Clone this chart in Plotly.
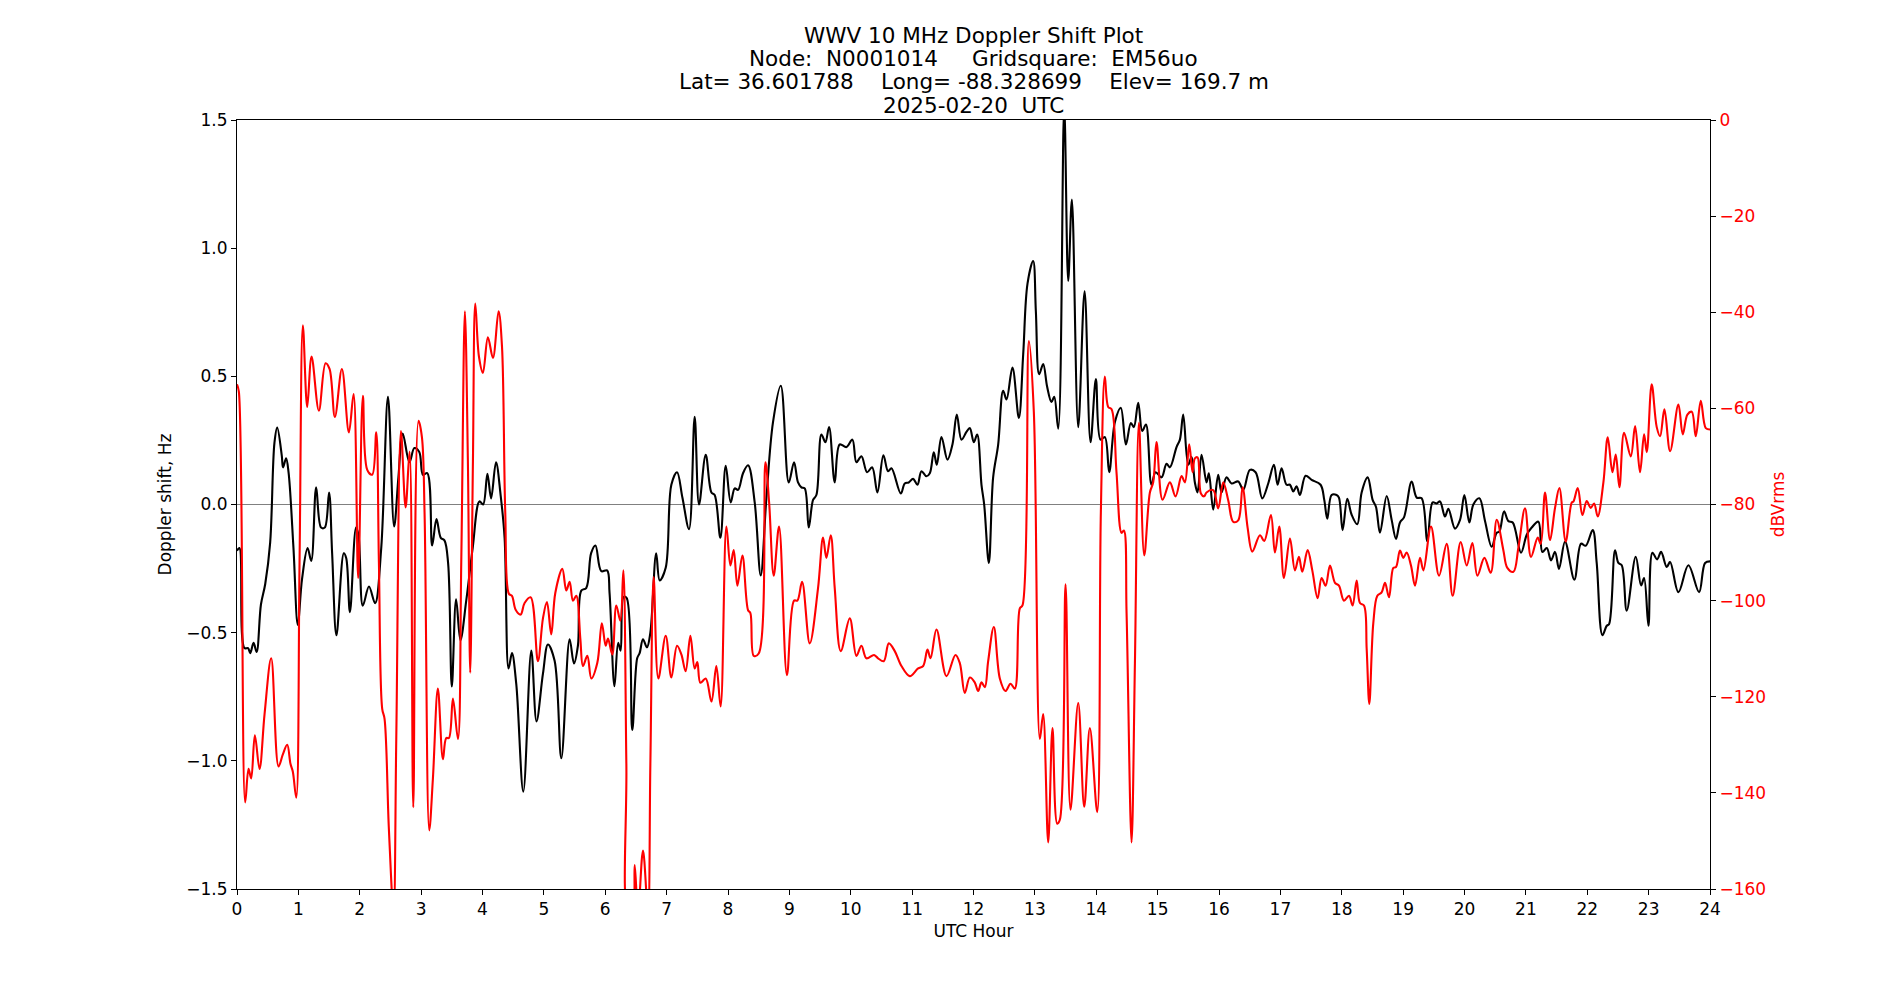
import plotly.graph_objects as go

# ---------------- data ----------------
doppler_hours = [
    0.0, 0.04, 0.12, 0.18, 0.215, 0.27, 0.32, 0.39, 0.46, 0.54, 0.61, 0.655, 0.73, 0.75, 0.80, 0.84, 0.92, 0.99,
    1.06, 1.15, 1.21, 1.29, 1.37, 1.43, 1.50, 1.55, 1.62, 1.74, 1.78, 1.84, 1.94, 1.98,
    2.05, 2.15, 2.25, 2.35, 2.46, 2.56, 2.63, 2.70, 2.81, 2.89, 2.97,
    3.03, 3.10, 3.18, 3.25, 3.32, 3.38, 3.44, 3.50, 3.57, 3.64, 3.735, 3.84, 3.95,
    4.01, 4.08, 4.14, 4.22, 4.295, 4.36, 4.425, 4.48, 4.55, 4.665, 4.795, 4.88, 4.985,
    5.066, 5.175, 5.284, 5.42, 5.49, 5.555, 5.61, 5.69, 5.77, 5.84, 5.935,
    6.03, 6.07, 6.15, 6.21, 6.25, 6.30, 6.35, 6.44, 6.52, 6.56, 6.615, 6.68, 6.735, 6.83, 6.887, 6.985,
    7.077, 7.17, 7.257, 7.365, 7.457, 7.528, 7.637, 7.73, 7.783, 7.876, 7.963,
    8.044, 8.11, 8.164, 8.245, 8.327, 8.435, 8.533, 8.626, 8.734, 8.86, 8.99,
    9.076, 9.141, 9.196, 9.25, 9.315, 9.386, 9.44, 9.522, 9.587, 9.647, 9.739, 9.82, 9.93,
    10.027, 10.092, 10.174, 10.266, 10.348, 10.434, 10.532, 10.608, 10.663, 10.815, 10.88, 10.945,
    11.016, 11.087, 11.152, 11.233, 11.288, 11.353, 11.402, 11.478, 11.576, 11.657, 11.728, 11.804, 11.885, 11.94,
    12.005, 12.06, 12.13, 12.174, 12.25, 12.32, 12.402, 12.483, 12.538, 12.635, 12.739, 12.81, 12.88, 12.972,
    13.016, 13.07, 13.135, 13.20, 13.27, 13.315, 13.38, 13.478, 13.543, 13.603, 13.706, 13.81, 13.907, 13.994,
    14.07, 14.14, 14.211, 14.304, 14.40, 14.483, 14.564, 14.613, 14.684, 14.749, 14.81, 14.90, 14.966,
    15.064, 15.145, 15.20, 15.308, 15.363, 15.417, 15.499, 15.553, 15.607, 15.65, 15.716, 15.797, 15.835, 15.906, 15.987,
    16.042, 16.123, 16.205, 16.313, 16.395, 16.504, 16.596, 16.705, 16.802, 16.895, 16.955,
    17.02, 17.10, 17.156, 17.21, 17.264, 17.318, 17.411, 17.509, 17.655, 17.715, 17.764, 17.835, 17.916, 17.954,
    18.014, 18.09, 18.161, 18.253, 18.324, 18.422, 18.503, 18.558, 18.623, 18.732, 18.813, 18.884, 18.949,
    19.014, 19.139, 19.221, 19.302, 19.395, 19.481, 19.547, 19.601, 19.682, 19.737, 19.845, 19.927, 19.998,
    20.079, 20.144, 20.242, 20.335, 20.443, 20.525, 20.568, 20.644, 20.715, 20.786, 20.921,
    21.014, 21.095, 21.203, 21.269, 21.34, 21.41, 21.475, 21.54, 21.638, 21.79, 21.899, 21.975,
    22.089, 22.154, 22.247, 22.317, 22.355, 22.453, 22.507, 22.562, 22.643, 22.79, 22.877, 22.926, 22.997,
    23.062, 23.138, 23.203, 23.295, 23.35, 23.485, 23.648, 23.822, 23.92, 24.0,
]
doppler_hz = [
    -0.18, -0.17, -0.56, -0.56, -0.58, -0.54, -0.575, -0.39, -0.31, -0.15, 0.24, 0.30, 0.19, 0.145, 0.18, 0.125, -0.17, -0.47,
    -0.29, -0.17, -0.22, 0.067, -0.09, -0.09, 0.047, -0.19, -0.51, -0.19, -0.21, -0.42, -0.09, -0.12,
    -0.395, -0.32, -0.385, -0.17, 0.42, -0.086, 0.106, 0.277, 0.165, 0.22, 0.205,
    0.116, 0.122, -0.16, -0.057, -0.13, -0.14, -0.23, -0.71, -0.37, -0.53, -0.375, -0.17, 0.012,
    0.0, 0.12, 0.024, 0.165, 0.037, -0.13, -0.64, -0.58, -0.70, -1.12, -0.57, -0.846, -0.66,
    -0.546, -0.61, -0.99, -0.526, -0.62, -0.55, -0.336, -0.326, -0.19, -0.16, -0.26,
    -0.257, -0.345, -0.709, -0.54, -0.57, -0.36, -0.365, -0.88, -0.60, -0.58, -0.526, -0.557, -0.50, -0.19, -0.296, -0.247,
    0.077, 0.126, 0.027, -0.096, 0.342, 0.0, 0.194, 0.047, 0.037, -0.13, 0.151,
    0.008, 0.063, 0.057, 0.122, 0.153, 0.008, -0.277, 0.027, 0.322, 0.463, 0.086,
    0.165, 0.086, 0.067, 0.063, -0.09, 0.018, 0.037, 0.273, 0.243, 0.302, 0.086, 0.234, 0.224,
    0.253, 0.165, 0.188, 0.126, 0.145, 0.047, 0.192, 0.13, 0.141, 0.043, 0.082, 0.086,
    0.10, 0.077, 0.13, 0.11, 0.122, 0.204, 0.155, 0.263, 0.175, 0.234, 0.351, 0.253, 0.283, 0.298,
    0.243, 0.273, 0.077, 0.0, -0.228, 0.106, 0.234, 0.444, 0.41, 0.534, 0.338, 0.587, 0.862, 0.95,
    0.754, 0.508, 0.548, 0.459, 0.40, 0.42, 0.296, 1.55, 0.872, 1.19, 0.302, 0.832, 0.243, 0.489,
    0.253, 0.263, 0.126, 0.322, 0.377, 0.234, 0.318, 0.302, 0.397, 0.287, 0.312, 0.077, 0.126,
    0.106, 0.159, 0.145, 0.224, 0.253, 0.351, 0.155, 0.185, 0.086, 0.047, 0.194, 0.086, 0.122, -0.02, 0.116,
    0.047, 0.106, 0.082, 0.09, 0.057, 0.135, 0.126, 0.024, 0.082, 0.155, 0.077,
    0.141, 0.077, 0.077, 0.051, 0.071, 0.037, 0.112, 0.096, 0.077, 0.018, -0.055, 0.037, 0.037, 0.027,
    -0.10, 0.022, -0.04, -0.077, 0.047, 0.106, 0.018, -0.01, -0.11, 0.033, -0.06, -0.134, -0.07,
    -0.05, 0.09, 0.027, 0.024, -0.143, 0.008, 0.004, 0.012, -0.047, -0.017, -0.094, -0.06, 0.037,
    -0.07, 0.0, 0.024, -0.065, -0.165, -0.11, -0.106, -0.027, -0.065, -0.07, -0.188,
    -0.118, -0.09, -0.067, -0.185, -0.17, -0.218, -0.185, -0.251, -0.145, -0.293, -0.153, -0.161,
    -0.10, -0.228, -0.51, -0.473, -0.467, -0.179, -0.228, -0.237, -0.414, -0.204, -0.316, -0.287, -0.473,
    -0.188, -0.214, -0.185, -0.244, -0.224, -0.342, -0.237, -0.342, -0.228, -0.222,
]

signal_hours = [
    0.0, 0.03, 0.133, 0.188, 0.231, 0.291, 0.367, 0.449, 0.557, 0.677, 0.747, 0.818, 0.872, 0.91, 0.965,
    1.019, 1.073, 1.144, 1.215, 1.334, 1.443, 1.508, 1.595, 1.709, 1.823, 1.90, 1.975,
    2.051, 2.122, 2.203, 2.269, 2.312, 2.366, 2.404, 2.475, 2.551, 2.595, 2.671, 2.747, 2.812, 2.872, 2.958,
    3.013, 3.056, 3.132, 3.192, 3.273, 3.355, 3.409, 3.453, 3.518, 3.60, 3.654, 3.713, 3.762, 3.80, 3.844, 3.882, 3.942,
    4.007, 4.088, 4.17, 4.262, 4.317, 4.371, 4.431, 4.48, 4.54, 4.621, 4.686, 4.784, 4.903, 4.985,
    5.05, 5.12, 5.186, 5.30, 5.365, 5.42, 5.474, 5.528, 5.594, 5.637, 5.708, 5.773, 5.87, 5.945,
    6.007, 6.045, 6.115, 6.18, 6.246, 6.295, 6.344, 6.376, 6.441, 6.48, 6.534, 6.615, 6.697, 6.735, 6.789, 6.865, 6.985,
    7.077, 7.17, 7.24, 7.31, 7.387, 7.457, 7.50, 7.55, 7.637, 7.73, 7.81, 7.88, 7.974,
    8.039, 8.093, 8.153, 8.235, 8.327, 8.365, 8.42, 8.50, 8.61, 8.67, 8.745, 8.832, 8.96,
    9.076, 9.13, 9.207, 9.332, 9.467, 9.549, 9.603, 9.674, 9.739, 9.837, 9.984,
    10.092, 10.174, 10.255, 10.38, 10.445, 10.538, 10.62, 10.717, 10.826, 10.962,
    11.098, 11.18, 11.25, 11.30, 11.397, 11.56, 11.706, 11.777, 11.858, 11.94,
    12.02, 12.076, 12.13, 12.185, 12.239, 12.331, 12.429, 12.521, 12.603, 12.673, 12.755, 12.798, 12.902, 12.983,
    13.081, 13.135, 13.217, 13.287, 13.364, 13.407, 13.50, 13.58, 13.706, 13.804, 13.896,
    14.016, 14.075, 14.14, 14.195, 14.25, 14.33, 14.412, 14.45, 14.494, 14.575, 14.63, 14.695, 14.782, 14.874, 14.928, 14.982,
    15.08, 15.20, 15.292, 15.39, 15.444, 15.515, 15.569, 15.607, 15.65, 15.705, 15.759, 15.797, 15.906, 15.987,
    16.069, 16.15, 16.232, 16.313, 16.384, 16.466, 16.542, 16.667, 16.737, 16.846, 16.911, 16.982,
    17.058, 17.156, 17.237, 17.302, 17.357, 17.444, 17.52, 17.607, 17.672, 17.737, 17.808, 17.89, 17.954,
    18.036, 18.118, 18.177, 18.243, 18.297, 18.362, 18.406, 18.449, 18.514, 18.58, 18.65, 18.705, 18.77, 18.84, 18.884, 18.949,
    19.003, 19.058, 19.128, 19.194, 19.275, 19.33, 19.454, 19.585, 19.71, 19.807, 19.938,
    20.036, 20.128, 20.21, 20.324, 20.427, 20.525, 20.633, 20.698, 20.797, 20.878, 20.986,
    21.084, 21.193, 21.242, 21.312, 21.394, 21.475, 21.546, 21.649, 21.747, 21.774, 21.845, 21.921, 21.991,
    22.057, 22.111, 22.171, 22.263, 22.334, 22.41, 22.464, 22.524, 22.60, 22.709, 22.78, 22.86, 22.926, 22.97,
    23.05, 23.132, 23.187, 23.257, 23.35, 23.485, 23.556, 23.632, 23.703, 23.768, 23.85, 23.931, 24.0,
]
signal_dbvrms = [
    -55, -56.5, -142, -135, -137, -128, -135, -123.6, -112, -134.5, -132, -130, -134, -135.6, -141,
    -92, -42.7, -59.7, -49.2, -60.5, -50.6, -51.8, -61.8, -51.8, -65, -57, -95.3,
    -57.4, -72.8, -73.8, -65, -92, -122.5, -124.6, -147.6, -165, -128.8, -64.7, -80.6, -69, -143, -62.6,
    -66, -81.7, -147.8, -137, -118.3, -133, -128.6, -128.6, -120.4, -128.8, -92, -39.8, -71, -115, -71, -38.2, -49.2,
    -52.6, -45.2, -49.5, -39.8, -47, -81.7, -98.6, -99, -101.9, -102.9, -100.5, -99.3, -112.6, -103.7,
    -100.3, -107, -98.4, -93.4, -97.9, -96.1, -100, -99, -107.9, -113.6, -111.5, -116.2, -113, -104.7,
    -109.4, -107.9, -111.2, -101, -104.2, -93.7, -134, -165, -165, -155, -165, -152, -165, -134, -95.1, -116.2, -107.3,
    -116, -109.4, -111.2, -114.7, -107.3, -114.1, -112.8, -117.1, -116.2, -121, -113.6, -122, -84.6,
    -92.7, -89.5, -96.9, -90.6, -102, -102.6, -111.5, -111, -71.2, -79.6, -94.8, -84.6, -115.5,
    -100, -100, -96.1, -108.9, -97.4, -86.9, -91.1, -86.4, -97.4, -110.5, -103.7,
    -111.5, -109.4, -112, -111.3, -112, -112.6, -108.9, -110.5, -113.6, -115.7,
    -114.1, -113.6, -110.2, -112, -106, -115.7, -111.3, -113, -119.2, -116,
    -117, -118.8, -117, -118, -112.6, -105.5, -116.2, -118.8, -117.3, -118.3, -101.6, -101, -46, -60.7,
    -128.8, -123.6, -150.3, -126.5, -146.4, -145.6, -96.6, -143.5, -121.3, -142.9, -126.5,
    -144, -81.7, -53.4, -59.7, -60.2, -73.3, -85.9, -85.4, -102.6, -150.3, -113, -63, -90.6, -77.5, -75.4, -67,
    -79, -75.4, -78.3, -74.1, -75.4, -67.5, -73.3, -70.4, -70.2, -77.7, -78.3, -77.5, -77, -80.8,
    -75.4, -79.1, -83.6, -83.3, -76.4, -84.8, -89.8, -86.4, -87.6, -82.2, -90, -84.6,
    -95.3, -87.1, -93.7, -90.9, -94, -89.5, -93.7, -99.5, -95.3, -96.9, -92.7, -96.3, -96.9,
    -100, -99, -101, -95.8, -100.5, -101, -110, -121.5, -104.7, -99, -98.3, -96.3, -99.3, -93.2, -93, -89.6,
    -91.1, -90, -92.7, -96.9, -91.1, -93.7, -84.6, -94.8, -88.2, -99, -87.8,
    -92.7, -88, -94.8, -91.1, -94.2, -83.2, -89.5, -93.2, -94, -89, -80.8,
    -90.9, -86.9, -88.2, -77.5, -87.4, -80.7, -76.6, -87.7, -79.6, -79.4, -76.6, -82.2, -79.3,
    -80.7, -79.8, -82.5, -75.4, -66, -73.3, -69.6, -76.4, -65.1, -70, -63.7, -73.3, -65.4, -69.1,
    -55, -63.9, -65.8, -60.2, -68.9, -59.2, -65.4, -61.3, -60.7, -65.8, -58.4, -64.1, -64.4,
]

title_lines = [
    "WWV 10 MHz Doppler Shift Plot",
    "Node:  N0001014     Gridsquare:  EM56uo",
    "Lat= 36.601788    Long= -88.328699    Elev= 169.7 m",
    "2025-02-20  UTC",
]
hour_ticks = list(range(0, 25))
doppler_ticks = [-1.5, -1.0, -0.5, 0.0, 0.5, 1.0, 1.5]
signal_ticks = [0, -20, -40, -60, -80, -100, -120, -140, -160]

# ---------------- figure ----------------
FONT = "DejaVu Sans"
fig = go.Figure()
fig.add_trace(go.Scatter(
    x=doppler_hours, y=doppler_hz, mode="lines", yaxis="y",
    line=dict(color="black", width=2.1, shape="spline", smoothing=1.0),
    showlegend=False, hoverinfo="skip",
))
fig.add_trace(go.Scatter(
    x=signal_hours, y=signal_dbvrms, mode="lines", yaxis="y2",
    line=dict(color="red", width=2.1, shape="spline", smoothing=1.0),
    showlegend=False, hoverinfo="skip",
))

axis_common = dict(showgrid=False, ticks="outside", ticklen=5, tickwidth=1,
                   tickcolor="black", linecolor="black", linewidth=1, showline=True)

fig.update_layout(
    width=1900, height=1000,
    margin=dict(l=237, r=190, t=120, b=111),
    paper_bgcolor="white", plot_bgcolor="white",
    font=dict(family=FONT, size=17, color="black"),
    xaxis=dict(range=[0, 24], tickvals=hour_ticks, mirror=True, zeroline=False,
               title=dict(text="UTC Hour", font=dict(size=17), standoff=6),
               tickfont=dict(size=17), **axis_common),
    yaxis=dict(range=[-1.5, 1.5], tickvals=doppler_ticks, tickformat=".1f",
               zeroline=True, zerolinecolor="#808080", zerolinewidth=1,
               title=dict(text="Doppler shift, Hz", font=dict(size=17), standoff=10),
               tickfont=dict(size=17), **axis_common),
    yaxis2=dict(range=[-160, 0], tickvals=signal_ticks, overlaying="y", side="right",
                zeroline=False,
                title=dict(text="dBVrms", font=dict(size=17, color="red"), standoff=6),
                tickfont=dict(size=17, color="red"), **axis_common),
)

line_y = [1.1105, 1.0806, 1.0507, 1.0195]
for txt, yy in zip(title_lines, line_y):
    fig.add_annotation(text=txt, x=0.5, y=yy, xref="paper", yref="paper",
                       xanchor="center", yanchor="middle", showarrow=False,
                       font=dict(family=FONT, size=21.5, color="black"))

fig.write_html("out.html")
